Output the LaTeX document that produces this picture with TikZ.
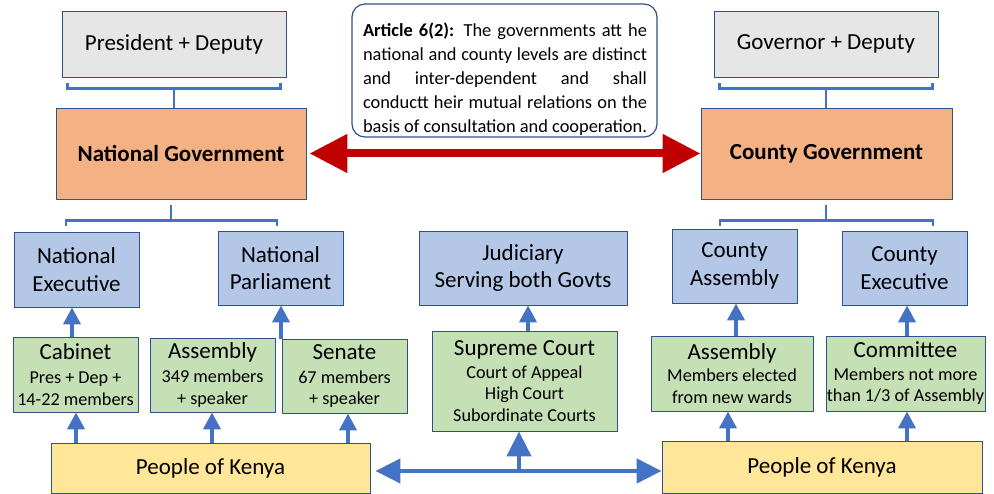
\documentclass[tikz,border=0pt]{standalone}
\usepackage{fontspec}
\setmainfont{Carlito}
\usetikzlibrary{arrows.meta,calc}
\definecolor{bord}{HTML}{2F528F}
\definecolor{arrblue}{HTML}{4472C4}
\definecolor{gfill}{HTML}{E7E6E6}
\definecolor{ofill}{HTML}{F4B183}
\definecolor{bfill}{HTML}{B4C7E7}
\definecolor{grfill}{HTML}{C5E0B4}
\definecolor{yfill}{HTML}{FFE699}
\definecolor{darkred}{HTML}{C00000}
\newcommand\boxtitle[1]{{\fontsize{23}{27}\selectfont #1}}
\begin{document}
\begin{tikzpicture}[x=1pt,y=-1pt,
  base/.style={draw=bord, line width=0.9pt, inner sep=0pt, align=center, text=black, font=\fontsize{23}{27.5}\selectfont},
  greybox/.style={base, fill=gfill},
  orangebox/.style={base, fill=ofill, font=\fontsize{23}{27}\selectfont\bfseries},
  bluebox/.style={base, fill=bfill},
  greenbox/.style={base, fill=grfill, font=\fontsize{18.2}{21.5}\selectfont},
  yellowbox/.style={base, fill=yfill},
  bracket/.style={draw=arrblue, line width=2.5pt},
  uparr/.style={draw=arrblue, line width=4pt, -{Triangle[length=17pt,width=17pt]}},
  bigup/.style={draw=arrblue, line width=4.5pt, -{Triangle[length=25pt,width=24pt]}},
  bigarr/.style={draw=arrblue, line width=4.5pt, {Triangle[length=25pt,width=24pt]}-{Triangle[length=25pt,width=24pt]}},
  redarr/.style={draw=darkred, line width=8pt, {Triangle[length=38pt,width=37pt]}-{Triangle[length=38pt,width=37pt]}}
]
\useasboundingbox (0,0) rectangle (994,494);

% top row
\node[greybox, minimum width=224pt, minimum height=66pt] (pres) at (174,44) {President + Deputy};
\node[greybox, minimum width=224pt, minimum height=66pt] (gov) at (826,44) {Governor + Deputy};

\node[draw=bord, line width=1.2pt, rounded corners=13pt, fill=white, minimum width=305pt, minimum height=133pt] (art) at (504.5,70.5) {};
\node[inner sep=0pt, align=left, font=\fontsize{18.4}{24}\selectfont] (arttext) at (505,79) {%
\makebox[284pt][s]{\textbf{Article 6(2):} The governments att he}\\
\makebox[284pt][s]{national and county levels are distinct}\\
\makebox[284pt][s]{and inter-dependent and shall}\\
\makebox[284pt][s]{conductt heir mutual relations on the}\\
\makebox[284pt][s]{basis of consultation and cooperation.}};

% governments
\node[orangebox, minimum width=250pt, minimum height=91pt] (natgov) at (181,153.5) {National Government};
\node[orangebox, minimum width=251pt, minimum height=91pt] (cntgov) at (826.5,153.5) {County Government};

% blue row
\node[bluebox, minimum width=125pt, minimum height=75pt] (natexec) at (76.5,269.5) {National\\Executive};
\node[bluebox, minimum width=125pt, minimum height=74pt] (natparl) at (280.5,268) {National\\Parliament};
\node[bluebox, minimum width=208pt, minimum height=74pt] (judic) at (523,268) {Judiciary\\Serving both Govts};
\node[bluebox, minimum width=125pt, minimum height=74pt] (cntasm) at (734.5,266) {County\\Assembly};
\node[bluebox, minimum width=125pt, minimum height=74pt] (cntexec) at (904.5,268) {County\\Executive};

% green row
\node[greenbox, minimum width=125pt, minimum height=75pt] (cabinet) at (75.5,374.5) {\boxtitle{Cabinet}\\[2.5pt]Pres + Dep +\\14-22 members};
\node[greenbox, minimum width=125pt, minimum height=74pt] (asm) at (212.5,375) {\boxtitle{Assembly}\\[2.5pt]349 members\\+ speaker};
\node[greenbox, minimum width=125pt, minimum height=74pt] (senate) at (344.5,376) {\boxtitle{Senate}\\[2.5pt]67 members\\+ speaker};
\node[greenbox, minimum width=185pt, minimum height=100pt] (supreme) at (524.5,381) {\boxtitle{Supreme Court}\\[1.5pt]Court of Appeal\\High Court\\Subordinate Courts};
\node[greenbox, minimum width=162pt, minimum height=75pt] (casm) at (732,373.5) {\boxtitle{Assembly}\\[1pt]Members elected\\from new wards};
\node[greenbox, minimum width=159pt, minimum height=75pt] (committee) at (905.5,373.5) {\boxtitle{Committee}\\[1pt]Members not more\\than 1/3 of Assembly};

% people
\node[yellowbox, minimum width=319pt, minimum height=50pt] (pok1) at (210.5,468) {People of Kenya};
\node[yellowbox, minimum width=320pt, minimum height=52pt] (pok2) at (822,467) {People of Kenya};

% coordinates for arrow positions
\coordinate (a1) at (76,0);
\coordinate (a2) at (212,0);
\coordinate (a3) at (348,0);
\coordinate (a4) at (72,0);
\coordinate (a5) at (281,0);
\coordinate (a6) at (519,0);
\coordinate (a7) at (528,0);
\coordinate (a8) at (728,0);
\coordinate (a9) at (736,0);
\coordinate (a10) at (907,0);
\coordinate (hy) at (0,471);

% brackets
\draw[bracket] ($(pres.south west)+(6,6)$) -- ($(pres.south west)+(6,11)$) -- ($(pres.south east)+(-6,11)$) -- ($(pres.south east)+(-6,6)$);
\draw[bracket] ($(pres.south)+(0,11)$) -- (natgov.north -| pres.south);
\draw[bracket] ($(gov.south west)+(6,6)$) -- ($(gov.south west)+(6,11)$) -- ($(gov.south east)+(-6,11)$) -- ($(gov.south east)+(-6,6)$);
\draw[bracket] ($(gov.south)+(0,11)$) -- (cntgov.north -| gov.south);

\draw[bracket] ($(natgov.south)+(-10,6)$) -- ($(natgov.south)+(-10,22)$);
\draw[bracket] ($(natexec.north)+(-10.5,-6)$) -- ($(natexec.north)+(-10.5,-11)$) -- ($(natparl.north)+(-3.5,-10)$) -- ($(natparl.north)+(-3.5,-5)$);
\draw[bracket] ($(cntgov.south)+(-0.5,6)$) -- ($(cntgov.south)+(-0.5,22)$);
\draw[bracket] ($(cntasm.north)+(-14.5,-3)$) -- ($(cntasm.north)+(-14.5,-8)$) -- ($(cntexec.north)+(28.5,-10)$) -- ($(cntexec.north)+(28.5,-5)$);

% red double arrow
\draw[redarr, shorten <=3pt] (natgov.east) -- (cntgov.west);

% blue arrows
\draw[uparr] (pok1.north -| a1) -- (cabinet.south -| a1);
\draw[uparr] (pok1.north -| a2) -- (asm.south -| a2);
\draw[uparr] (pok1.north -| a3) -- (senate.south -| a3);
\draw[uparr] (cabinet.north -| a4) -- (natexec.south -| a4);
\draw[uparr] (senate.north -| a5) -- (natparl.south -| a5);
\draw[uparr] (supreme.north -| a7) -- (judic.south -| a7);
\draw[uparr] (pok2.north -| a8) -- (casm.south -| a8);
\draw[uparr] (casm.north -| a9) -- (cntasm.south -| a9);
\draw[uparr] (pok2.north -| a10) -- (committee.south -| a10);
\draw[uparr] (committee.north -| a10) -- (cntexec.south -| a10);
\draw[bigarr, shorten <=5pt] (pok1.east |- hy) -- (pok2.west |- hy);
\draw[bigup] (hy -| a6) -- (supreme.south -| a6);
\end{tikzpicture}
\end{document}
